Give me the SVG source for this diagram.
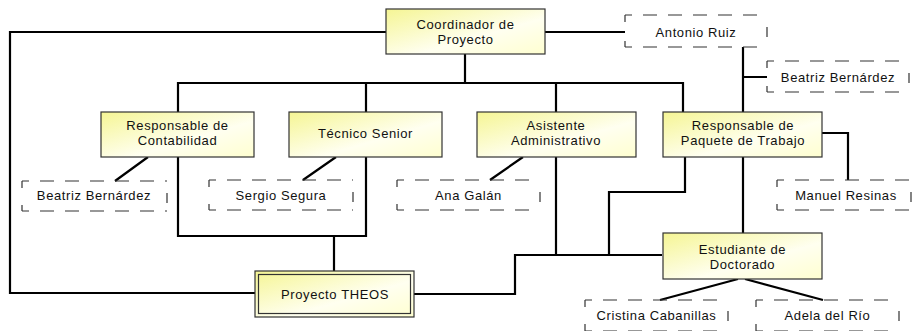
<svg xmlns="http://www.w3.org/2000/svg" width="915" height="331" viewBox="0 0 915 331">
<defs>
<linearGradient id="g" x1="0" y1="0" x2="1" y2="1">
<stop offset="0" stop-color="#f5f594"/>
<stop offset="0.6" stop-color="#fffff0"/>
<stop offset="1" stop-color="#ffffd0"/>
</linearGradient>
<style>
.box{fill:url(#g);stroke:#333;stroke-width:1.2}
.t{font-family:"Liberation Sans",Arial,sans-serif;font-size:13px;letter-spacing:0.6px;fill:#111;text-anchor:middle}
.dh{fill:none;stroke:#333;stroke-width:1.2;stroke-dasharray:14 11;stroke-dashoffset:7}
.ds{fill:none;stroke:#333;stroke-width:1.2}
.conn{fill:none;stroke:#000;stroke-width:2.2;stroke-linejoin:miter}
</style>
</defs>
<rect width="915" height="331" fill="#fff"/>
<g id="connectors" class="conn">
<path d="M386 32 H10 V293 H255"/>
<path d="M545 32 H625"/>
<path d="M465 54 V83 M178 112 V83 H683 V112 M366 83 V112 M556 83 V112"/>
<path d="M743 47 V112 M743 77 H767"/>
<path d="M178 157 V236 H366 V157 M334 236 V271"/>
<path d="M414 294 H515 V255 H662 M556 157 V255 M685 157 V192 H609 V255"/>
<path d="M743 157 V233"/>
<path d="M822 133 H848 V180"/>
<path d="M148 157 L115 181 M336 157 L303 180 M523 157 L490 180"/>
<path d="M738 279 L660 300 M745 279 L823 300"/>
</g>
<g id="coordinador">
<rect class="box" x="386" y="9" width="159" height="45"/>
<text class="t" x="465.5" y="29">Coordinador de</text>
<text class="t" x="465.5" y="44">Proyecto</text>
</g>
<g id="antonio">
<path class="dh" d="M625 15 H767 M625 47 H767"/>
<path class="ds" d="M625 15 V22 M625 41 V47 M767 27 V37"/>
<text class="t" x="696" y="37">Antonio Ruiz</text>
</g>
<g id="beatriz2">
<path class="dh" d="M767 61 H909 M767 92 H909"/>
<path class="ds" d="M767 61 V68 M767 86 V92 M909 73 V83"/>
<text class="t" x="838" y="82">Beatriz Bernárdez</text>
</g>
<g id="contabilidad">
<rect class="box" x="101" y="112" width="153" height="45"/>
<text class="t" x="177.5" y="130">Responsable de</text>
<text class="t" x="177.5" y="145">Contabilidad</text>
</g>
<g id="tecnico">
<rect class="box" x="289" y="112" width="153" height="45"/>
<text class="t" x="365.5" y="138">Técnico Senior</text>
</g>
<g id="asistente">
<rect class="box" x="477" y="112" width="159" height="45"/>
<text class="t" x="556" y="130">Asistente</text>
<text class="t" x="556" y="145">Administrativo</text>
</g>
<g id="paquete">
<rect class="box" x="663" y="112" width="159" height="45"/>
<text class="t" x="743" y="130">Responsable de</text>
<text class="t" x="743" y="145">Paquete de Trabajo</text>
</g>
<g id="beatriz1">
<path class="dh" d="M22 181 H167 M22 211 H167"/>
<path class="ds" d="M22 181 V188 M22 205 V211 M167 193 V203"/>
<text class="t" x="94" y="200">Beatriz Bernárdez</text>
</g>
<g id="sergio">
<path class="dh" d="M209 180 H353 M209 210 H353"/>
<path class="ds" d="M209 180 V187 M209 204 V210 M353 192 V202"/>
<text class="t" x="281" y="200">Sergio Segura</text>
</g>
<g id="ana">
<path class="dh" d="M397 180 H540 M397 210 H540"/>
<path class="ds" d="M397 180 V187 M397 204 V210 M540 192 V202"/>
<text class="t" x="468.5" y="200">Ana Galán</text>
</g>
<g id="manuel">
<path class="dh" d="M777 180 H911 M777 210 H911"/>
<path class="ds" d="M777 180 V187 M777 204 V210 M911 192 V202"/>
<text class="t" x="846" y="200">Manuel Resinas</text>
</g>
<g id="estudiante">
<rect class="box" x="663" y="233" width="159" height="46"/>
<text class="t" x="742.5" y="254">Estudiante de</text>
<text class="t" x="742.5" y="269">Doctorado</text>
</g>
<g id="theos">
<rect class="box" x="255" y="271" width="159" height="46"/>
<rect x="258.5" y="274.5" width="152" height="39" fill="none" stroke="#333" stroke-width="1.2"/>
<text class="t" x="335" y="299">Proyecto THEOS</text>
</g>
<g id="cristina">
<path class="dh" d="M585 300 H728 M585 331 H728"/>
<path class="ds" d="M585 300 V307 M585 324 V331 M728 311 V321"/>
<text class="t" x="656.5" y="320">Cristina Cabanillas</text>
</g>
<g id="adela">
<path class="dh" d="M756 300 H899 M756 331 H899"/>
<path class="ds" d="M756 300 V307 M756 324 V331 M899 311 V321"/>
<text class="t" x="827.5" y="320">Adela del Río</text>
</g>
</svg>
